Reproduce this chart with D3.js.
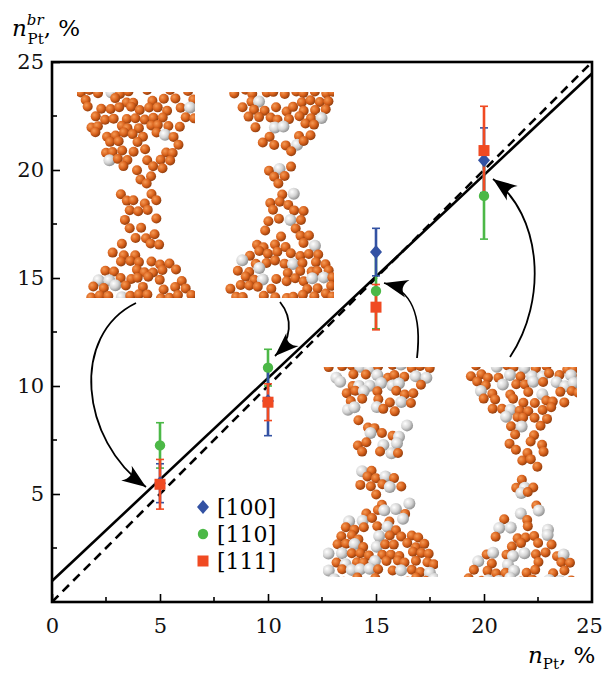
<!DOCTYPE html>
<html>
<head>
<meta charset="utf-8">
<script src="https://cdn.jsdelivr.net/npm/d3@7"></script>
<style>
  body { margin: 0; background: #fff; }
  svg { display: block; }
</style>
</head>
<body>
<svg id="chart" width="602" height="675" font-family="DejaVu Serif"></svg>
<script>
'use strict';

// concentrations of Pt in the wire (x) and in the bridge (y), per orientation
var nPt = [5, 10, 15, 20];
var series = ['[100]', '[110]', '[111]'];
var colors = ['#3352a3', '#4cb847', '#f04a22'];
var val100 = [5.5, 9.3, 16.2, 20.45];
var err100 = [0.9, 1.6, 1.1, 1.5];
var val110 = [7.25, 10.85, 14.4, 18.8];
var err110 = [1.05, 0.85, 1.75, 2.0];
var val111 = [5.45, 9.25, 13.65, 20.9];
var err111 = [1.15, 0.85, 1.05, 2.05];
// fitted line and the y = x line
var fitSlope = 0.94, fitIntercept = 0.97;
var xTicks = [0, 5, 10, 15, 20, 25];
var yTicks = [5, 10, 15, 20, 25];
var minorTicks = [2.5, 7.5, 12.5, 17.5, 22.5];
var FONT = 'DejaVu Serif';

var svg = d3.select('#chart');
var x = d3.scaleLinear().domain([0, 25]).range([52, 592]);
var y = d3.scaleLinear().domain([0, 25]).range([602, 62]);

// gradients for the atom spheres
var defs = svg.append('defs');
function ballGrad(id, c0, c1, c2) {
    var g = defs.append('radialGradient').attr('id', id)
        .attr('cx', '35%').attr('cy', '35%').attr('r', '70%');
    g.append('stop').attr('offset', '0%').attr('stop-color', c0);
    g.append('stop').attr('offset', '55%').attr('stop-color', c1);
    g.append('stop').attr('offset', '100%').attr('stop-color', c2);
}
ballGrad('orange', '#f59a55', '#d9621c', '#8a3a0c');
ballGrad('grey', '#ffffff', '#d4d4d4', '#8c8c8c');
defs.append('marker').attr('id', 'head')
    .attr('viewBox', '-26 -11 28 22').attr('refX', 0).attr('refY', 0)
    .attr('markerWidth', 28).attr('markerHeight', 22)
    .attr('markerUnits', 'userSpaceOnUse').attr('orient', 'auto')
    .append('path').attr('d', 'M0,0 L-24,-9 Q-15,0 -24,9 Z').attr('fill', '#000');

// insets: snapshots of the breaking nanowires (decoration)
var insets = [
    { x0: 77, y0: 92, w: 118, h: 206, neck: 0.55, cx: 0.53, nw: 0.3, grey: 0.08 },
    { x0: 222, y0: 92, w: 112, h: 206, neck: 0.45, cx: 0.56, nw: 0.25, grey: 0.13 },
    { x0: 323, y0: 367, w: 115, h: 210, neck: 0.45, cx: 0.5, nw: 0.35, grey: 0.3 },
    { x0: 462, y0: 367, w: 115, h: 210, neck: 0.55, cx: 0.55, nw: 0.22, grey: 0.33 }
];
function hash(a, b, c) {
    var h = (a * 374761393 + b * 668265263 + c * 2147483647) | 0;
    h = (h ^ (h >>> 13)) * 1274126177 | 0;
    return ((h ^ (h >>> 16)) >>> 0) / 4294967296;
}
insets.forEach(function (ins, k) {
    var g = svg.append('g');
    g.append('clipPath').attr('id', 'clip' + k).append('rect')
        .attr('x', ins.x0).attr('y', ins.y0).attr('width', ins.w).attr('height', ins.h);
    var balls = [];
    var step = 10;
    for (var r = 0; r * step * 0.85 < ins.h + 6; r++) {
        var yy = ins.y0 + r * step * 0.85;
        var t = (yy - ins.y0) / ins.h;
        var d = Math.min(1, Math.abs(t - ins.neck) / 0.45);
        var half = ins.w / 2 * (ins.nw + (1 - ins.nw) * Math.pow(d, 1.6));
        var c = ins.x0 + ins.w * ins.cx;
        for (var col = -10; col <= 10; col++) {
            var xx = c + col * step + (r % 2) * step / 2 + (hash(k, r, col) - 0.5) * 5;
            if (Math.abs(xx - c) > half) continue;
            var gone = d < 0.7 ? hash(col, k, r) < 0.4 : hash(col, k, r) < 0.1;
            if (gone) continue;
            var isGrey = hash(r, col + 50, k + 7) < ins.grey;
            balls.push({ x: xx, y: yy + (hash(r + 9, col, k) - 0.5) * 5, grey: isGrey });
        }
    }
    g.attr('clip-path', 'url(#clip' + k + ')')
        .selectAll('circle').data(balls).join('circle')
        .attr('cx', function (b) { return b.x; })
        .attr('cy', function (b) { return b.y; })
        .attr('r', function (b) { return b.grey ? 6 : 5; })
        .attr('fill', function (b) { return b.grey ? 'url(#grey)' : 'url(#orange)'; });
});

// lines
svg.append('line')
    .attr('x1', x(0)).attr('y1', y(fitIntercept))
    .attr('x2', x(25)).attr('y2', y(fitIntercept + fitSlope * 25))
    .attr('stroke', '#000').attr('stroke-width', 2.6);
svg.append('line')
    .attr('x1', x(0)).attr('y1', y(0)).attr('x2', x(25)).attr('y2', y(25))
    .attr('stroke', '#000').attr('stroke-width', 2.6).attr('stroke-dasharray', '9,6');

// error bars and markers
var vals = [val100, val110, val111];
var errs = [err100, err110, err111];
var pts = [];
[1, 0, 2].forEach(function (s) {
    nPt.forEach(function (n, i) {
        pts.push({ s: s, x: n, y: vals[s][i], e: errs[s][i] });
    });
});
var eb = svg.append('g');
pts.forEach(function (p) {
    var c = colors[p.s];
    eb.append('line').attr('x1', x(p.x)).attr('x2', x(p.x))
        .attr('y1', y(p.y - p.e)).attr('y2', y(p.y + p.e))
        .attr('stroke', c).attr('stroke-width', 2.6);
    [p.y - p.e, p.y + p.e].forEach(function (v) {
        eb.append('line').attr('x1', x(p.x) - 4).attr('x2', x(p.x) + 4)
            .attr('y1', y(v)).attr('y2', y(v)).attr('stroke', c).attr('stroke-width', 1.6);
    });
});
function marker(g, s, cx, cy) {
    if (s === 0) {
        g.append('path').attr('d', 'M' + cx + ',' + (cy - 7) + ' l6,7 l-6,7 l-6,-7 Z')
            .attr('fill', colors[0]);
    } else if (s === 1) {
        g.append('circle').attr('cx', cx).attr('cy', cy).attr('r', 5.2).attr('fill', colors[1]);
    } else {
        g.append('rect').attr('x', cx - 5.5).attr('y', cy - 5.5).attr('width', 11).attr('height', 11)
            .attr('fill', colors[2]);
    }
}
var mk = svg.append('g');
pts.forEach(function (p) { marker(mk, p.s, x(p.x), y(p.y)); });

// arrows from the snapshots to the points
var arrows = [
    'M136,303 C70,335 80,440 146,487',
    'M280,302 C293,318 292,340 275,356',
    'M417,358 C422,315 412,290 384,283',
    'M510,357 C548,300 542,215 493,179'
];
svg.append('g').selectAll('path').data(arrows).join('path')
    .attr('d', function (d) { return d; })
    .attr('fill', 'none').attr('stroke', '#000').attr('stroke-width', 1.8)
    .attr('marker-end', 'url(#head)');

// frame and ticks
svg.append('rect').attr('x', x(0)).attr('y', y(25))
    .attr('width', x(25) - x(0)).attr('height', y(0) - y(25))
    .attr('fill', 'none').attr('stroke', '#000').attr('stroke-width', 2.6);
var xAxis = d3.axisBottom(x).tickValues(xTicks).tickSize(-8).tickPadding(16);
var gx = svg.append('g').attr('transform', 'translate(0,' + y(0) + ')').call(xAxis);
gx.selectAll('.tick').filter(function (d) { return d === 25; }).select('line').remove();
gx.selectAll('.tick').filter(function (d) { return d === 25; }).select('text').attr('dx', -3);
gx.selectAll('.tick line').attr('stroke-width', 1.6);
var yAxis = d3.axisLeft(y).tickValues(yTicks).tickSize(-8).tickPadding(8);
var gy = svg.append('g').attr('transform', 'translate(' + x(0) + ',0)').call(yAxis);
gy.selectAll('.tick line').attr('stroke-width', 1.6);
[gx, gy].forEach(function (g) {
    g.attr('font-family', FONT).attr('font-size', 21);
    g.select('.domain').remove();
    g.selectAll('text').attr('fill', '#111');
});
svg.append('g').selectAll('line').data(minorTicks).join('line')
    .attr('x1', function (d) { return x(d); }).attr('x2', function (d) { return x(d); })
    .attr('y1', y(0)).attr('y2', y(0) - 5).attr('stroke', '#000').attr('stroke-width', 1.6);
svg.append('g').selectAll('line').data(minorTicks).join('line')
    .attr('y1', function (d) { return y(d); }).attr('y2', function (d) { return y(d); })
    .attr('x1', x(0)).attr('x2', x(0) + 5).attr('stroke', '#000').attr('stroke-width', 1.6);

// legend
var leg = svg.append('g').attr('font-family', FONT);
series.forEach(function (s, i) {
    var ly = 507 + i * 27;
    marker(leg, i, 203, ly);
    leg.append('text').attr('x', 217).attr('y', ly + 8).attr('font-size', 22).text(s);
});

// axis titles
var ty = svg.append('text').attr('x', 12).attr('y', 36).attr('font-size', 23).attr('font-family', FONT);
ty.append('tspan').attr('font-style', 'italic').text('n');
ty.append('tspan').attr('dy', -11).attr('font-size', 15).attr('font-style', 'italic').text('br');
ty.append('tspan').attr('dx', -16).attr('dy', 19).attr('font-size', 15).text('Pt');
ty.append('tspan').attr('dy', -8).text(', %');
var tx = svg.append('text').attr('x', 528).attr('y', 663).attr('font-size', 23).attr('font-family', FONT);
tx.append('tspan').attr('font-style', 'italic').text('n');
tx.append('tspan').attr('dy', 6).attr('font-size', 15).text('Pt');
tx.append('tspan').attr('dy', -6).text(', %');
</script>
</body>
</html>
